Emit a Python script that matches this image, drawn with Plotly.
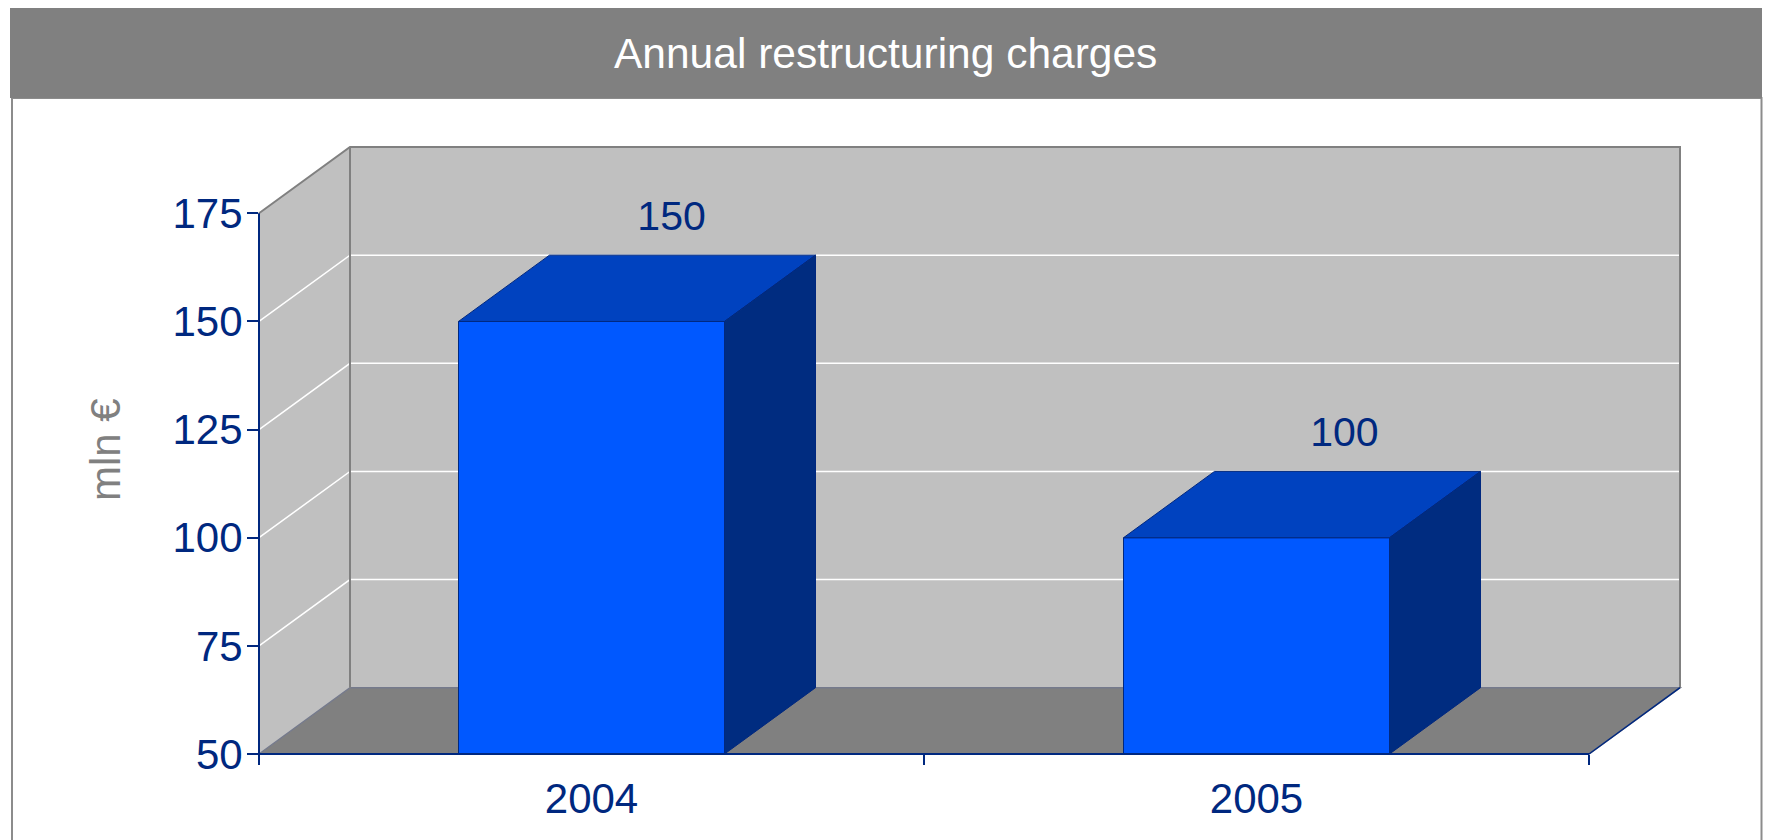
import plotly.graph_objects as go

TITLE = "Annual restructuring charges"
Y_TITLE = "mln €"
categories = ["2004", "2005"]
values = [150, 100]
y_ticks = [50, 75, 100, 125, 150, 175]
label_shift = [0.1204, 0.1323]   # data labels sit a little right of the bar centres

W, H = 1767, 840
L, R, T, B = 259, 1680, 147, 754   # plot area in pixels
DX = 0.13685     # depth of the 3D box in category units
DY = 15.33       # depth of the 3D box in value units
X_MAX = len(categories)
BAR_W = 0.4
Y0, Y1 = y_ticks[0], y_ticks[-1]

NAVY = "#00287F"
GREY = "#808080"
WALL = "#C0C0C0"
FRONT = "#0058FF"
SIDE = "#002C80"
TOP = "#0042BF"
FONT = "Liberation Sans"


def px(x):
    return (x - L) / (R - L)


def py(y):
    return (B - y) / (B - T)


def fx(x):
    return x / (X_MAX + DX)


def fy(y):
    return (y - Y0) / (Y1 + DY - Y0)


def line_path(points, closed=False):
    return "M" + " L".join(f"{fx(a)},{fy(b)}" for a, b in points) + (" Z" if closed else "")


def wall_shape(points, closed=False, fill=None, line=None, layer="below"):
    s = dict(type="path", xref="paper", yref="paper", layer=layer, path=line_path(points, closed),
             line=line or dict(width=0))
    if fill:
        s["fillcolor"] = fill
    return s


shapes = []
# page frame and header band
shapes.append(dict(type="rect", xref="paper", yref="paper", x0=px(12), x1=px(1761.5), y0=py(98), y1=py(860),
                   line=dict(color="#8C8C8C", width=2), fillcolor="white", layer="below"))
shapes.append(dict(type="rect", xref="paper", yref="paper", x0=px(10), x1=px(1762), y0=py(8), y1=py(98),
                   line=dict(width=0), fillcolor=GREY, layer="below"))
# walls and floor
shapes.append(wall_shape([(DX, Y0 + DY), (X_MAX + DX, Y0 + DY), (X_MAX + DX, Y1 + DY), (DX, Y1 + DY)], True, WALL))
shapes.append(wall_shape([(0, Y0), (DX, Y0 + DY), (DX, Y1 + DY), (0, Y1)], True, WALL))
shapes.append(wall_shape([(0, Y0), (DX, Y0 + DY), (X_MAX + DX, Y0 + DY), (X_MAX, Y0)], True, GREY,
                         dict(color="#757A8C", width=1.5)))
# gridlines on both walls
for v in y_ticks[1:-1]:
    shapes.append(wall_shape([(0, v), (DX, v + DY), (X_MAX + DX, v + DY)], line=dict(color="white", width=1.5)))
# wall outlines
shapes.append(wall_shape([(0, Y1), (DX, Y1 + DY), (X_MAX + DX, Y1 + DY), (X_MAX + DX, Y0 + DY)],
                         line=dict(color=GREY, width=2)))
shapes.append(wall_shape([(DX, Y1 + DY), (DX, Y0 + DY)], line=dict(color=GREY, width=2)))
# front axis lines
shapes.append(wall_shape([(0, Y1), (0, Y0), (X_MAX, Y0)], line=dict(color=NAVY, width=2), layer="above"))
shapes.append(wall_shape([(X_MAX, Y0), (X_MAX + DX, Y0 + DY)], line=dict(color=NAVY, width=1.5), layer="above"))

centers = [i + 0.5 for i in range(len(categories))]

fig = go.Figure()
fig.add_trace(go.Bar(x=centers, y=values, width=BAR_W, marker=dict(color=FRONT, line=dict(color=NAVY, width=1))))

for c, v in zip(centers, values):
    left, right = c - BAR_W / 2, c + BAR_W / 2
    fig.add_trace(go.Scatter(
        x=[left, right, right + DX, left + DX, left],
        y=[v, v, v + DY, v + DY, v],
        mode="lines", fill="toself", fillcolor=TOP, line=dict(color=NAVY, width=1)))
    fig.add_trace(go.Scatter(
        x=[right, right + DX, right + DX, right, right],
        y=[Y0, Y0 + DY, v + DY, v, Y0],
        mode="lines", fill="toself", fillcolor=SIDE, line=dict(color=NAVY, width=1)))

fig.add_trace(go.Scatter(
    x=[c + s for c, s in zip(centers, label_shift)], y=[v + DY + 3.4 for v in values], mode="text",
    text=[str(v) for v in values], textposition="top center", cliponaxis=False,
    textfont=dict(family=FONT, size=41, color=NAVY)))

fig.update_layout(
    width=W, height=H,
    margin=dict(l=L, r=W - R, t=T, b=H - B, autoexpand=False),
    paper_bgcolor="white", plot_bgcolor="rgba(0,0,0,0)",
    showlegend=False, hovermode=False,
    font=dict(family=FONT, color=NAVY),
    shapes=shapes,
    xaxis=dict(range=[0, X_MAX + DX], tickmode="array", tickvals=centers, ticktext=categories,
               ticks="outside", ticklen=0, tickwidth=0, tickcolor=NAVY, showgrid=False, zeroline=False, showline=False,
               tickfont=dict(family=FONT, size=42, color=NAVY), ticklabelstandoff=8,
               minor=dict(tickmode="array", tickvals=list(range(X_MAX + 1)), ticks="outside",
                          ticklen=10, tickwidth=1.5, tickcolor=NAVY, showgrid=False)),
    yaxis=dict(range=[Y0, Y1 + DY], tickmode="array", tickvals=y_ticks,
               ticks="outside", ticklen=11, tickwidth=1.5, tickcolor=NAVY, showgrid=False, zeroline=False,
               showline=False, tickfont=dict(family=FONT, size=42, color=NAVY), ticklabelstandoff=-4),
    annotations=[
        dict(text=TITLE, xref="paper", yref="paper", x=px(885), y=py(53.5), showarrow=False,
             xanchor="center", yanchor="middle",
             font=dict(family=FONT, size=42.5, color="white")),
        dict(text=Y_TITLE, xref="paper", yref="paper", x=px(105), y=py(450), showarrow=False, textangle=-90,
             xanchor="center", yanchor="middle",
             font=dict(family=FONT, size=42, color=GREY)),
    ],
)

fig.write_html("out.html", config=dict(displayModeBar=False),
               post_script="document.body.style.margin='0';document.body.style.overflow='hidden';")
